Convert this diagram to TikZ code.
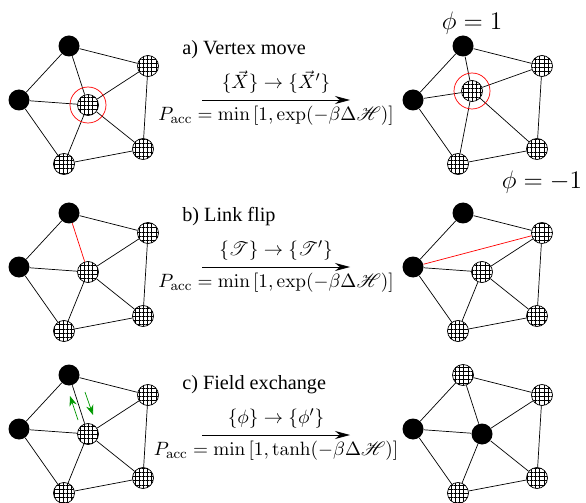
\documentclass[tikz,border=0pt]{standalone}
\usepackage{amsmath, amssymb}
\usepackage{mathrsfs}
\usepackage[no-math]{fontspec}
\newfontfamily\titlefont{Liberation Serif}
\usepackage{xcolor}
\usepackage{tikz}
\usetikzlibrary{patterns.meta, arrows.meta}

\begin{document}
\begin{tikzpicture}[
    spin up/.style={circle, fill=black, minimum size=0.42cm, inner sep=0pt},
    spin down/.style={circle, draw, thin, minimum size=0.42cm, inner sep=0pt,
      pattern={Lines[angle=0, distance=2.4pt, line width=0.5pt]},
      postaction={pattern={Lines[angle=90, distance=2.4pt, line width=0.5pt]}}},
    ring/.style={circle, draw=red, thin, minimum size=0.72cm, inner sep=0pt},
    move/.style={-{Stealth[length=3mm, width=1.6mm]}, thin},
    swap/.style={-{Stealth[length=2mm, width=1.5mm]}, thin, green!60!black},
    title/.style={anchor=west, inner sep=0pt, font=\titlefont\fontsize{11.5}{13}\selectfont},
    rate/.style={font=\fontsize{10.95}{13}\selectfont},
    phi/.style={font=\Large}
  ]
    \useasboundingbox (0,0) rectangle (11.72,10.04);

    % a) Vertex move - prima
    \node[spin up] (a-top) at (1.38,9.12) {};
    \node[spin up] (a-left) at (0.38,8.04) {};
    \node[spin down] (a-mid) at (1.76,7.94) {};
    \node[spin down] (a-ur) at (2.96,8.72) {};
    \node[spin down] (a-lr) at (2.86,7.06) {};
    \node[spin down] (a-bot) at (1.28,6.76) {};
    \draw (a-top) -- (a-ur) -- (a-lr) -- (a-bot) -- (a-left) -- (a-top);
    \draw (a-mid) -- (a-top) (a-mid) -- (a-ur) (a-mid) -- (a-lr)
      (a-mid) -- (a-bot) (a-mid) -- (a-left);
    \node[ring] (a-ring) at (a-mid) {};

    % a) Vertex move - dopo
    \node[spin up] (A-top) at (9.26,9.12) {};
    \node[spin up] (A-left) at (8.26,8.04) {};
    \node[spin down] (A-mid) at (9.44,8.22) {};
    \node[spin down] (A-ur) at (10.84,8.72) {};
    \node[spin down] (A-lr) at (10.74,7.06) {};
    \node[spin down] (A-bot) at (9.16,6.76) {};
    \draw (A-top) -- (A-ur) -- (A-lr) -- (A-bot) -- (A-left) -- (A-top);
    \draw (A-mid) -- (A-top) (A-mid) -- (A-ur) (A-mid) -- (A-lr)
      (A-mid) -- (A-bot) (A-mid) -- (A-left);
    \node[ring] (A-ring) at (A-mid) {};

    % Campo
    \node[phi] (phi-up) at (9.44,9.58) {$\phi = 1$};
    \node[phi] (phi-down) at (10.84,6.40) {$\phi = -1$};

    % Freccia a
    \node[title] (a-title) at (3.64,9.04) {a) Vertex move};
    \coordinate (a-from) at (4.04,8.04);
    \coordinate (a-to) at (7.00,8.04);
    \draw[move] (a-from) -- (a-to)
      node[midway, above, rate]{$\{\vec{X}\} \to \{\vec{X}'\}$}
      node[midway, below, rate]{$P_{\mathrm{acc}} = \min\left[1, \exp(-\beta\Delta\mathscr{H})\right]$};

    % b) Link flip - prima
    \node[spin up] (b-top) at (1.38,5.78) {};
    \node[spin up] (b-left) at (0.38,4.70) {};
    \node[spin down] (b-mid) at (1.76,4.60) {};
    \node[spin down] (b-ur) at (2.96,5.38) {};
    \node[spin down] (b-lr) at (2.86,3.72) {};
    \node[spin down] (b-bot) at (1.28,3.42) {};
    \draw (b-top) -- (b-ur) -- (b-lr) -- (b-bot) -- (b-left) -- (b-top);
    \draw (b-mid) -- (b-ur) (b-mid) -- (b-lr)
      (b-mid) -- (b-bot) (b-mid) -- (b-left);
    \draw[red] (b-mid) -- (b-top);

    % b) Link flip - dopo
    \node[spin up] (B-top) at (9.26,5.78) {};
    \node[spin up] (B-left) at (8.26,4.70) {};
    \node[spin down] (B-mid) at (9.64,4.60) {};
    \node[spin down] (B-ur) at (10.84,5.38) {};
    \node[spin down] (B-lr) at (10.74,3.72) {};
    \node[spin down] (B-bot) at (9.16,3.42) {};
    \draw (B-top) -- (B-ur) -- (B-lr) -- (B-bot) -- (B-left) -- (B-top);
    \draw (B-mid) -- (B-ur) (B-mid) -- (B-lr)
      (B-mid) -- (B-bot) (B-mid) -- (B-left);
    \draw[red] (B-left) -- (B-ur);

    % Freccia b
    \node[title] (b-title) at (3.64,5.70) {b) Link flip};
    \coordinate (b-from) at (4.04,4.70);
    \coordinate (b-to) at (7.00,4.70);
    \draw[move] (b-from) -- (b-to)
      node[midway, above, rate]{$\{\mathscr{T}\} \to \{\mathscr{T}'\}$}
      node[midway, below, rate]{$P_{\mathrm{acc}} = \min\left[1, \exp(-\beta\Delta\mathscr{H})\right]$};

    % c) Field exchange - prima
    \node[spin up] (c-top) at (1.38,2.54) {};
    \node[spin up] (c-left) at (0.38,1.46) {};
    \node[spin down] (c-mid) at (1.76,1.36) {};
    \node[spin down] (c-ur) at (2.96,2.14) {};
    \node[spin down] (c-lr) at (2.86,0.48) {};
    \node[spin down] (c-bot) at (1.28,0.18) {};
    \draw (c-top) -- (c-ur) -- (c-lr) -- (c-bot) -- (c-left) -- (c-top);
    \draw (c-mid) -- (c-top) (c-mid) -- (c-ur) (c-mid) -- (c-lr)
      (c-mid) -- (c-bot) (c-mid) -- (c-left);

    % Scambio
    \coordinate (up-from) at (1.56,1.64);
    \coordinate (up-to) at (1.40,2.12);
    \coordinate (down-from) at (1.70,2.20);
    \coordinate (down-to) at (1.86,1.74);
    \draw[swap] (up-from) -- (up-to);
    \draw[swap] (down-from) -- (down-to);

    % c) Field exchange - dopo
    \node[spin down] (C-top) at (9.26,2.54) {};
    \node[spin up] (C-left) at (8.26,1.46) {};
    \node[spin up] (C-mid) at (9.64,1.36) {};
    \node[spin down] (C-ur) at (10.84,2.14) {};
    \node[spin down] (C-lr) at (10.74,0.48) {};
    \node[spin down] (C-bot) at (9.16,0.18) {};
    \draw (C-top) -- (C-ur) -- (C-lr) -- (C-bot) -- (C-left) -- (C-top);
    \draw (C-mid) -- (C-top) (C-mid) -- (C-ur) (C-mid) -- (C-lr)
      (C-mid) -- (C-bot) (C-mid) -- (C-left);

    % Freccia c
    \node[title] (c-title) at (3.64,2.34) {c) Field exchange};
    \coordinate (c-from) at (4.04,1.34);
    \coordinate (c-to) at (7.00,1.34);
    \draw[move] (c-from) -- (c-to)
      node[midway, above, rate]{$\{\phi\} \to \{\phi'\}$}
      node[midway, below, rate]{$P_{\mathrm{acc}} = \min\left[1, \tanh(-\beta\Delta\mathscr{H})\right]$};
  \end{tikzpicture}
\end{document}
